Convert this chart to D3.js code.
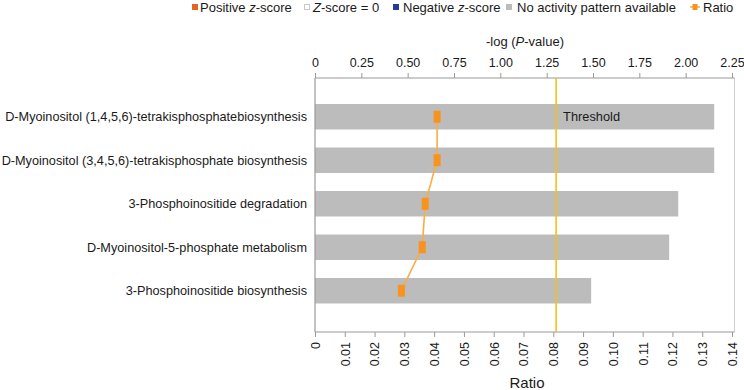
<!DOCTYPE html>
<html><head><meta charset="utf-8">
<script src="https://cdn.jsdelivr.net/npm/d3@7"></script>
<style>
body{margin:0;background:#fff;}
text{font-family:"Liberation Sans",Arial,Helvetica,sans-serif;fill:#1a1a1a;}
</style></head>
<body><svg id="c" width="744" height="390"></svg>
<script>
const categories = [
  "D-Myoinositol (1,4,5,6)-tetrakisphosphatebiosynthesis",
  "D-Myoinositol (3,4,5,6)-tetrakisphosphate biosynthesis",
  "3-Phosphoinositide degradation",
  "D-Myoinositol-5-phosphate metabolism",
  "3-Phosphoinositide biosynthesis"
];
const negLogP = [2.154, 2.154, 1.960, 1.911, 1.490];
const ratio = [0.041, 0.041, 0.037, 0.036, 0.029];
const threshold = 1.301;
const topTicks = [0, 0.25, 0.5, 0.75, 1.0, 1.25, 1.5, 1.75, 2.0, 2.25];
const bottomTicks = [0, 0.01, 0.02, 0.03, 0.04, 0.05, 0.06, 0.07, 0.08, 0.09, 0.10, 0.11, 0.12, 0.13, 0.14];
const legendItems = ["Positive z-score", "Z-score = 0", "Negative z-score", "No activity pattern available", "Ratio"];

const svg = d3.select("#c");
const L = 315, R = 732, RF = 734.5, T = 78, B = 332;
const xTop = d3.scaleLinear().domain([0, 2.25]).range([L, R]);
const xBot = d3.scaleLinear().domain([0, 0.14]).range([L, R]);
const y = d3.scaleBand().domain(categories).range([95, 312.5]).paddingInner(0.414).paddingOuter(0.207);

const grey = "#9a9a9a";

// bars
svg.append("g").selectAll("rect").data(categories).join("rect")
  .attr("x", L).attr("y", d => y(d))
  .attr("width", (d,i) => xTop(negLogP[i]) - L)
  .attr("height", y.bandwidth())
  .attr("fill", "#bcbcbc");

// frame lines
svg.append("line").attr("x1", L).attr("x2", L).attr("y1", T).attr("y2", B).attr("stroke", grey).attr("stroke-width", 1.2);
svg.append("line").attr("x1", RF).attr("x2", RF).attr("y1", T).attr("y2", B).attr("stroke", "#cfcfcf").attr("stroke-width", 1);

// top axis
const topAxis = d3.axisTop(xTop).tickValues(topTicks).tickSize(5).tickPadding(6)
  .tickFormat(d => d === 0 ? "0" : d3.format(".2f")(d));
const gt = svg.append("g").attr("transform", `translate(0,${T})`).call(topAxis);
gt.select(".domain").attr("stroke", grey).attr("stroke-width", 1.2).attr("d", `M${L},0H${RF}`);
gt.selectAll(".tick line").attr("stroke", grey);
gt.selectAll(".tick text").attr("font-size", 12.5).attr("fill", "#1a1a1a").style("font-family", '"Liberation Sans",Arial,sans-serif');

// bottom axis
const botAxis = d3.axisBottom(xBot).tickValues(bottomTicks).tickSize(5).tickPadding(6)
  .tickFormat(d => d === 0 ? "0" : d3.format(".2f")(d));
const gb = svg.append("g").attr("transform", `translate(0,${B})`).call(botAxis);
gb.select(".domain").attr("stroke", grey).attr("stroke-width", 1.2).attr("d", `M${L},0H${RF}`);
gb.selectAll(".tick line").attr("stroke", grey);
gb.selectAll(".tick text").attr("font-size", 12.5).attr("fill", "#1a1a1a")
  .style("font-family", '"Liberation Sans",Arial,sans-serif')
  .attr("text-anchor", "end").attr("dy", "0.35em")
  .attr("transform", "rotate(-90)").attr("x", -10).attr("y", 0);

// threshold
svg.append("line").attr("x1", xTop(threshold)).attr("x2", xTop(threshold))
  .attr("y1", T).attr("y2", B).attr("stroke", "#f6bf1c").attr("stroke-width", 1.6);
svg.append("text").attr("x", xTop(threshold) + 7).attr("y", y(categories[0]) + y.bandwidth()/2)
  .attr("dy", "0.35em").attr("font-size", 12.8).text("Threshold");

// ratio line + markers
const line = d3.line().x((d,i) => xBot(d)).y((d,i) => y(categories[i]) + y.bandwidth()/2);
svg.append("path").datum(ratio).attr("d", line).attr("fill", "none")
  .attr("stroke", "#f9ad45").attr("stroke-width", 1.6);
svg.append("g").selectAll("rect").data(ratio).join("rect")
  .attr("x", d => xBot(d) - 3.5)
  .attr("y", (d,i) => y(categories[i]) + y.bandwidth()/2 - 6)
  .attr("width", 7).attr("height", 12).attr("fill", "#f7931e");

// category labels
svg.append("g").selectAll("text").data(categories).join("text")
  .attr("x", 307).attr("y", d => y(d) + y.bandwidth()/2).attr("dy", "0.35em")
  .attr("text-anchor", "end").attr("font-size", 12.7).text(d => d);

// axis titles
const tt = svg.append("text").attr("x", 525).attr("y", 46).attr("text-anchor", "middle").attr("font-size", 13);
tt.append("tspan").text("-log (");
tt.append("tspan").attr("font-style", "italic").text("P");
tt.append("tspan").text("-value)");
svg.append("text").attr("x", 527).attr("y", 388).attr("text-anchor", "middle").attr("font-size", 15).text("Ratio");

// legend
const lg = svg.append("g").attr("font-size", 13);
const lx = [192, 304, 393, 506, 690];
function addLabel(x, label) {
  const t = lg.append("text").attr("x", x).attr("y", 11.5);
  const m = label.match(/^(.*?)([zZ])(-score.*)$/);
  if (m) {
    if (m[1]) t.append("tspan").text(m[1]);
    t.append("tspan").attr("font-style", "italic").text(m[2]);
    t.append("tspan").text(m[3]);
  } else t.text(label);
}
lg.append("rect").attr("x", lx[0]).attr("y", 4).attr("width", 6).attr("height", 6).attr("fill", "#e8631f");
addLabel(lx[0] + 8, legendItems[0]);
lg.append("rect").attr("x", lx[1] + 0.5).attr("y", 4.5).attr("width", 5).attr("height", 5).attr("fill", "#fff").attr("stroke", "#c8c8c8");
addLabel(lx[1] + 9, legendItems[1]);
lg.append("rect").attr("x", lx[2]).attr("y", 4).attr("width", 6).attr("height", 6).attr("fill", "#253b9b");
addLabel(lx[2] + 10, legendItems[2]);
lg.append("rect").attr("x", lx[3]).attr("y", 4).attr("width", 6).attr("height", 6).attr("fill", "#bcbcbc");
addLabel(lx[3] + 11, legendItems[3]);
lg.append("line").attr("x1", lx[4]).attr("x2", lx[4] + 10).attr("y1", 7).attr("y2", 7).attr("stroke", "#f9ad45").attr("stroke-width", 1.5);
lg.append("rect").attr("x", lx[4] + 2.5).attr("y", 4).attr("width", 5).attr("height", 6).attr("fill", "#f7931e");
addLabel(lx[4] + 13, legendItems[4]);
</script></body></html>
